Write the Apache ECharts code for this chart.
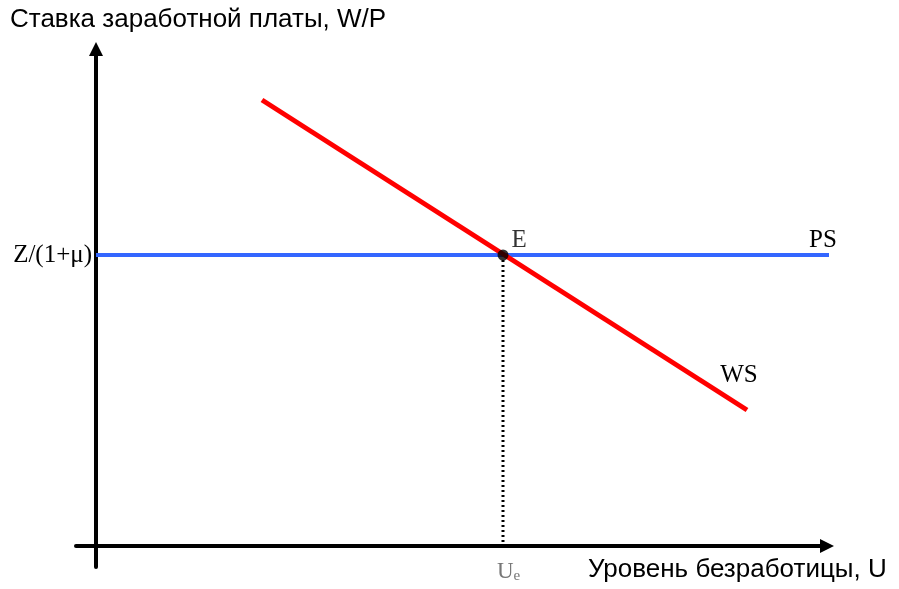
<!DOCTYPE html>
<html>
<head>
    <meta charset="utf-8" />
    <title>WS / PS</title>
    <script src="https://cdn.jsdelivr.net/npm/echarts@6/dist/echarts.min.js"></script>
    <style>
        html, body { margin: 0; padding: 0; background: #fff; }
        #chart { width: 899px; height: 589px; }
    </style>
</head>
<body>
    <div id="chart"></div>
    <script type="text/javascript">
        // axis extents (pixel-like units, origin where the axes cross)
        var xRange = [-20, 731];
        var yRange = [-21, 497];

        // WS curve: wage setting, falls as unemployment rises
        var wsPoints = [[166, 446], [651, 136]];
        // PS curve: price setting, flat at Z/(1+mu)
        var psLevel = 291;
        var psPoints = [[0, psLevel], [737, psLevel]];
        // equilibrium
        var eqPoint = [407, psLevel];
        var eqDrop = [[407, psLevel], [407, 0]];

        var serif = 'Liberation Serif';

        var chart = echarts.init(document.getElementById('chart'));
        chart.setOption({
            animation: false,
            grid: { left: 76, right: 72, top: 49, bottom: 22 },
            xAxis: {
                type: 'value',
                min: xRange[0],
                max: xRange[1],
                axisLine: {
                    onZero: true,
                    symbol: ['none', 'triangle'],
                    symbolSize: [14, 14],
                    lineStyle: { color: '#000', width: 4 }
                },
                axisTick: { show: false },
                axisLabel: { show: false },
                splitLine: { show: false }
            },
            yAxis: {
                type: 'value',
                min: yRange[0],
                max: yRange[1],
                axisLine: {
                    onZero: true,
                    symbol: ['none', 'triangle'],
                    symbolSize: [14, 14],
                    lineStyle: { color: '#000', width: 4 }
                },
                axisTick: { show: false },
                axisLabel: { show: false },
                splitLine: { show: false }
            },
            graphic: [
                {
                    type: 'text', left: 10, top: 7,
                    style: { text: 'Ставка заработной платы, W/P', font: '26px "Liberation Sans"', fill: '#000' }
                },
                {
                    type: 'text', left: 588, top: 557,
                    style: { text: 'Уровень безработицы, U', font: '26px "Liberation Sans"', fill: '#000' }
                }
            ],
            series: [
                {
                    type: 'line',
                    data: eqDrop,
                    symbol: 'none',
                    lineStyle: { color: '#000', width: 3, type: [2, 3] },
                    endLabel: {
                        show: true,
                        formatter: '{u|U}{s|e}',
                        offset: [-14, 26],
                        rich: {
                            u: { fontFamily: serif, fontSize: 23, color: '#777' },
                            s: { fontFamily: serif, fontSize: 15, color: '#777', padding: [9, 0, 0, 0] }
                        }
                    },
                    z: 2
                },
                {
                    type: 'line',
                    data: psPoints,
                    clip: false,
                    symbol: 'none',
                    lineStyle: { color: '#3366FF', width: 4 },
                    markPoint: {
                        symbol: 'circle', symbolSize: 0,
                        data: [
                            { coord: psPoints[0], value: 'Z/(1+μ)', label: { show: true, formatter: 'Z/(1+μ)', position: 'left', distance: 4, fontFamily: serif, fontSize: 25, color: '#000' } },
                            { coord: [727, psLevel], value: 'PS', label: { show: true, formatter: 'PS', position: 'top', distance: 2, fontFamily: serif, fontSize: 25, color: '#000' } }
                        ]
                    },
                    z: 3
                },
                {
                    type: 'line',
                    data: wsPoints,
                    symbol: 'none',
                    lineStyle: { color: '#FF0000', width: 5 },
                    markPoint: {
                        symbol: 'circle', symbolSize: 0,
                        data: [
                            { coord: [643, 171], value: 'WS', label: { show: true, formatter: 'WS', position: 'inside', fontFamily: serif, fontSize: 25, color: '#000' } }
                        ]
                    },
                    z: 4
                },
                {
                    type: 'scatter',
                    data: [eqPoint],
                    symbol: 'circle',
                    symbolSize: 11,
                    itemStyle: { color: '#000' },
                    label: {
                        show: true,
                        formatter: 'E',
                        position: [14, 3],
                        align: 'left',
                        verticalAlign: 'bottom',
                        fontFamily: serif, fontSize: 25, color: '#000'
                    },
                    z: 5
                }
            ]
        });
    </script>
</body>
</html>
